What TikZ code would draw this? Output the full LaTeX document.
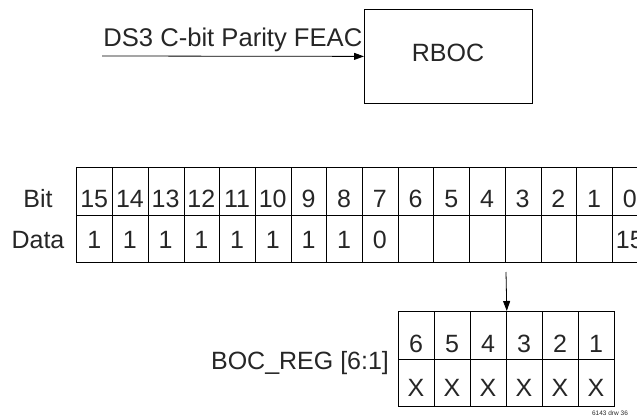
\documentclass[tikz,border=0pt]{standalone}
\usepackage{fontspec}
\setmainfont{Liberation Sans}
\usetikzlibrary{arrows.meta}
\begin{document}
\begin{tikzpicture}[
            x=1pt, y=-1pt,
            line width=0.8pt,
            every node/.style={font=\fontsize{25}{30}\selectfont, inner sep=0pt, text=black!85},
            cell/.style={draw, minimum width=35.7pt, minimum height=47.5pt, anchor=north west},
            regcell/.style={draw, minimum width=36pt, minimum height=47.5pt, anchor=north west},
            digit/.style={anchor=base},
            >={Triangle[length=10pt, width=7pt]}
            ]
        \useasboundingbox (0,0) rectangle (637,417);
        \clip (0,0) rectangle (637,417);
        \node[draw, minimum width=168pt, minimum height=94pt, anchor=north west] (rboc) at (364,9) {};
        \node[anchor=base] (rboclbl) at (448,62) {RBOC};
        \coordinate (feac) at (102,56);
        \draw[->] (feac) -- (rboc.west);
        \node[anchor=base west, font=\fontsize{25.6}{30}\selectfont] (feaclbl) at (103,47) {DS3 C-bit Parity FEAC};
        \node[anchor=base] (bitlbl) at (38,207) {Bit};
        \node[anchor=base] (datalbl) at (38,248) {Data};
        \foreach \b [count=\i from 0] in {15,...,0} {
            \node[cell] (bit\b) at (76.4+35.7*\i, 167) {};
            \node[cell] (dat\b) at (76.4+35.7*\i, 214.5) {};
            \node[digit] (bitn\b) at (94.25+35.7*\i, 207) {\b};
        }
        \foreach \i/\v in {0/1, 1/1, 2/1, 3/1, 4/1, 5/1, 6/1, 7/1, 8/0, 15/15} {
            \node[digit] (datn\i) at (94.25+35.7*\i, 248) {\v};
        }
        \node[anchor=base] (reglbl) at (300,369) {BOC\_REG [6:1]};
        \foreach \b [count=\i from 0] in {6,...,1} {
            \node[regcell] (reg\b) at (398+36*\i, 311) {};
            \node[regcell] (val\b) at (398+36*\i, 358.5) {};
            \node[digit] (regn\b) at (416+36*\i, 352) {\b};
            \node[digit] (valx\b) at (416+36*\i, 396) {X};
        }
        \coordinate (tap) at (506,272);
        \draw[->] (tap) -- (reg4.north east);
        \node[anchor=base, font=\fontsize{6.5}{8}\selectfont] (drw) at (610,415) {6143 drw 36};
        \end{tikzpicture}
\end{document}
